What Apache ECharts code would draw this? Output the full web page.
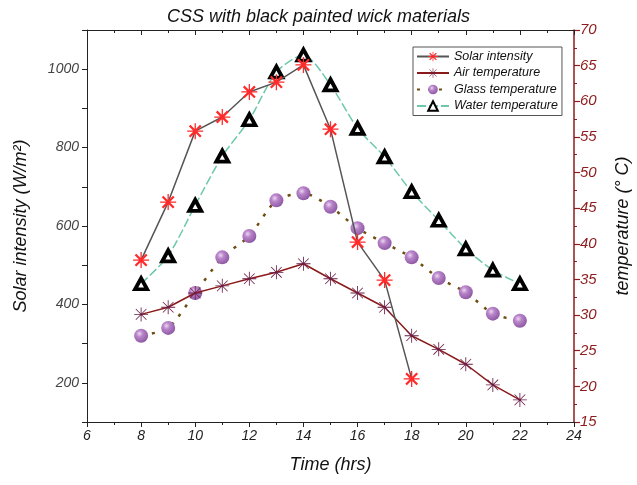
<!DOCTYPE html>
<html>
<head>
<meta charset="utf-8">
<script src="https://cdn.jsdelivr.net/npm/echarts@6/dist/echarts.min.js"></script>
<style>
  html, body { margin: 0; padding: 0; background: #fff; }
  #chart { width: 637px; height: 485px; }
</style>
</head>
<body>
<div id="chart"></div>
<script>
// hours
var solarHours = [8, 9, 10, 11, 12, 13, 14, 15, 16, 17, 18]
var tempHours = [8, 9, 10, 11, 12, 13, 14, 15, 16, 17, 18, 19, 20, 21, 22]
// W/m2
var solarIntensity = [513, 661, 842, 878, 942, 967, 1011, 847, 559, 462, 210]
// deg C
var airTemp = [30.1, 31.1, 33.1, 34.1, 35.1, 36.0, 37.2, 35.1, 33.1, 31.1, 27.1, 25.2, 23.1, 20.2, 18.1]
var glassTemp = [27.1, 28.2, 33.1, 38.1, 41.1, 46.1, 47.1, 45.2, 42.2, 40.1, 38.1, 35.2, 33.2, 30.2, 29.2]
var waterTemp = [34.4, 38.3, 45.4, 52.3, 57.4, 64.1, 66.5, 62.3, 56.2, 52.2, 47.3, 43.3, 39.3, 36.3, 34.4]

function pairs(xs, ys) {
  var out = []
  for (var i = 0; i < xs.length; i++) out.push([xs[i], ys[i]])
  return out
}

var font = "'Liberation Sans', Arial, sans-serif"
var darkRed = '#8e1c1c'

// red burst (X plus cross), filled
var burstPath = 'path://M2,4 L4,2 L18,16 L16,18 Z M16,2 L18,4 L4,18 L2,16 Z M9.2,0 L10.8,0 L10.8,20 L9.2,20 Z M0,9.2 L20,9.2 L20,10.8 L0,10.8 Z'
// thin asterisk
var starPath = 'path://M2,2.8 L2.8,2 L18,17.2 L17.2,18 Z M17.2,2 L18,2.8 L2.8,18 L2,17.2 Z M9.4,0 L10.6,0 L10.6,20 L9.4,20 Z M0,9.4 L20,9.4 L20,10.6 L0,10.6 Z'

var chart = echarts.init(document.getElementById('chart'))
chart.setOption({
  animation: false,
  title: {
    text: 'CSS with black painted wick materials',
    left: 'center',
    top: 3,
    textStyle: { fontFamily: font, fontSize: 18, fontStyle: 'italic', fontWeight: 'normal', color: '#111' }
  },
  legend: {
    orient: 'vertical',
    left: 413,
    top: 47,
    itemWidth: 32,
    itemHeight: 12,
    itemGap: 3.5,
    padding: [3, 4, 3, 3],
    borderColor: '#555',
    borderWidth: 1,
    backgroundColor: '#fff',
    textStyle: { fontFamily: font, fontSize: 12.5, fontStyle: 'italic', color: '#111' },
    data: ['Solar intensity', 'Air temperature', 'Glass temperature', 'Water temperature']
  },
  grid: { left: 87, right: 63, top: 30, bottom: 63, outerBoundsMode: 'none' },
  xAxis: [
    {
      type: 'value',
      min: 6, max: 24, interval: 2,
      name: 'Time (hrs)',
      nameLocation: 'middle',
      nameGap: 34,
      nameTextStyle: { fontFamily: font, fontSize: 18, fontStyle: 'italic', color: '#111' },
      axisLine: { show: true, onZero: false, lineStyle: { color: '#222', width: 1 } },
      axisTick: { show: true, length: 5, lineStyle: { color: '#222' } },
      minorTick: { show: true, splitNumber: 2, length: 3, lineStyle: { color: '#222' } },
      axisLabel: { fontFamily: font, fontSize: 14, fontStyle: 'italic', color: '#222', margin: 7 },
      splitLine: { show: false }
    },
    {
      type: 'value',
      position: 'top',
      min: 6, max: 24, interval: 2,
      axisLine: { show: true, onZero: false, lineStyle: { color: '#222', width: 1 } },
      axisTick: { show: true, inside: true, length: 5, lineStyle: { color: '#222' } },
      minorTick: { show: true, splitNumber: 2, length: 3, lineStyle: { color: '#222' } },
      axisLabel: { show: false },
      splitLine: { show: false }
    }
  ],
  yAxis: [
    {
      type: 'value',
      position: 'left',
      min: 100, max: 1100, interval: 100,
      name: 'Solar intensity (W/m\u00b2)',
      nameLocation: 'middle',
      nameGap: 57,
      nameRotate: 90,
      nameTextStyle: { fontFamily: font, fontSize: 18, fontStyle: 'italic', color: '#111' },
      axisLine: { show: true, lineStyle: { color: '#222', width: 1 } },
      axisTick: { show: true, length: 5, lineStyle: { color: '#222' } },
      axisLabel: {
        fontFamily: font, fontSize: 14, fontStyle: 'italic', color: '#444', margin: 8,
        formatter: function (v) { return (v % 200 === 0 && v <= 1000) ? v : '' }
      },
      splitLine: { show: false }
    },
    {
      type: 'value',
      position: 'right',
      min: 15, max: 70, interval: 5,
      name: 'temperature (\u00b0 C)',
      nameLocation: 'middle',
      nameGap: 40,
      nameRotate: 90,
      nameTextStyle: { fontFamily: font, fontSize: 18, fontStyle: 'italic', color: '#111' },
      axisLine: { show: true, lineStyle: { color: darkRed, width: 1.5 } },
      axisTick: { show: true, length: 6, lineStyle: { color: darkRed, width: 1.2 } },
      minorTick: { show: true, splitNumber: 2, length: 3, lineStyle: { color: darkRed } },
      axisLabel: { fontFamily: font, fontSize: 15, fontStyle: 'italic', color: darkRed, margin: 6 },
      splitLine: { show: false }
    }
  ],
  series: [
    {
      name: 'Water temperature',
      type: 'line',
      yAxisIndex: 1,
      data: pairs(tempHours, waterTemp),
      smooth: 0.25,
      symbol: 'triangle',
      symbolSize: [12, 11],
      lineStyle: { color: '#6cc8ad', width: 1.5, type: [9, 3] },
      itemStyle: { color: '#fff', borderColor: '#000', borderWidth: 3.8 },
      z: 3
    },
    {
      name: 'Glass temperature',
      type: 'line',
      yAxisIndex: 1,
      data: pairs(tempHours, glassTemp),
      smooth: 0.25,
      symbol: 'circle',
      symbolSize: 14,
      lineStyle: { color: '#6e4c12', width: 2.5, type: [3, 8] },
      itemStyle: {
        color: {
          type: 'radial', x: 0.38, y: 0.35, r: 0.7,
          colorStops: [
            { offset: 0, color: '#ecd6f2' },
            { offset: 0.35, color: '#b884c9' },
            { offset: 1, color: '#8a55a0' }
          ]
        }
      },
      z: 4
    },
    {
      name: 'Air temperature',
      type: 'line',
      yAxisIndex: 1,
      data: pairs(tempHours, airTemp),
      symbol: starPath,
      symbolSize: 14,
      lineStyle: { color: '#8b1a1a', width: 1.5 },
      itemStyle: { color: '#6a1c45' },
      z: 5
    },
    {
      name: 'Solar intensity',
      type: 'line',
      yAxisIndex: 0,
      data: pairs(solarHours, solarIntensity),
      symbol: burstPath,
      symbolSize: 16,
      lineStyle: { color: '#555', width: 1.5 },
      itemStyle: { color: '#ff2a2a' },
      z: 6
    }
  ]
})
</script>
</body>
</html>
